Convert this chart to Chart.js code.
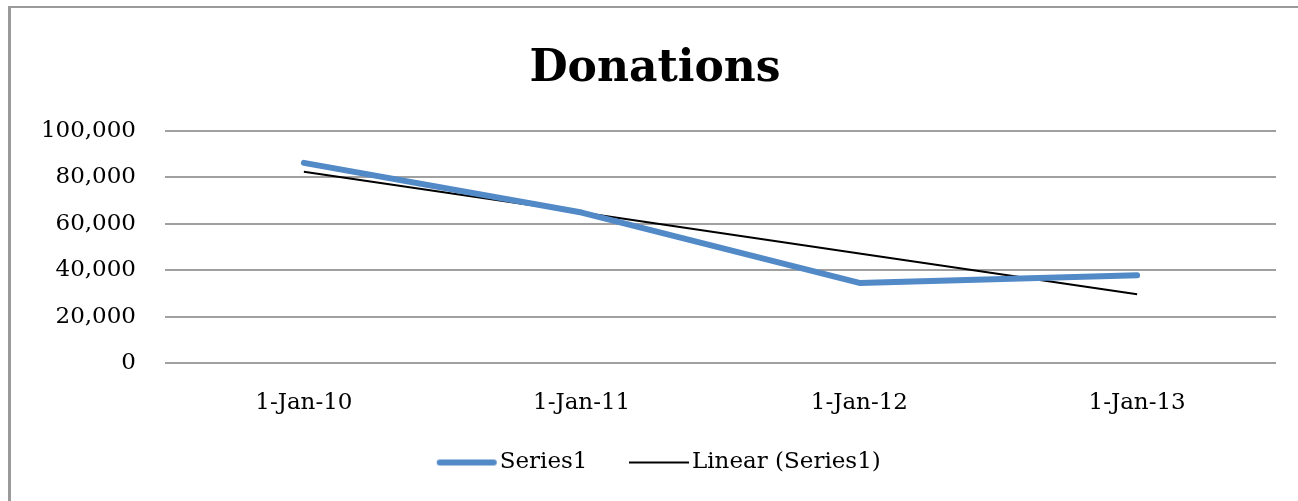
<!DOCTYPE html>
<html>
<head>
<meta charset="utf-8">
<script src="https://cdn.jsdelivr.net/npm/chart.js@4.4.1/dist/chart.umd.min.js"></script>
<style>
  html, body { margin: 0; padding: 0; background: #ffffff; }
  #wrap { position: relative; width: 1298px; height: 501px; overflow: hidden; }
  #frame { position: absolute; left: 8px; top: 6px; width: 1320px; height: 520px; border-left: 3px solid #9a9a9a; border-top: 2px solid #9a9a9a; box-sizing: border-box; }
  canvas { position: absolute; left: 0; top: 0; }
</style>
</head>
<body>
<div id="wrap">
  <div id="frame"></div>
  <canvas id="c" width="1298" height="501"></canvas>
</div>
<script>
const categories = ['1-Jan-10', '1-Jan-11', '1-Jan-12', '1-Jan-13'];
const series1 = [86200, 64800, 34500, 37800];
const linearSeries1 = [82400, 64800, 47200, 29600];
const yTicks = [0, 20000, 40000, 60000, 80000, 100000];

const serif = "'DejaVu Serif', serif";
const blue = '#5289c7';

function legendLine(color, width, cap) {
  const c = document.createElement('canvas');
  c.width = 80; c.height = 10;
  const g = c.getContext('2d');
  g.strokeStyle = color;
  g.lineWidth = width;
  g.lineCap = cap;
  g.beginPath();
  const pad = cap === 'round' ? width / 2 : 0;
  g.moveTo(18 + pad, 5);
  g.lineTo(78 - pad, 5);
  g.stroke();
  return c;
}
const legendStyles = [legendLine(blue, 6, 'round'), legendLine('#000000', 2, 'butt')];

const PAD_LEFT = 34;
const ctx = document.getElementById('c').getContext('2d');
new Chart(ctx, {
  type: 'line',
  data: {
    labels: categories,
    datasets: [
      {
        label: 'Series1',
        data: series1,
        borderColor: blue,
        backgroundColor: blue,
        borderWidth: 6,
        pointRadius: 0,
        borderCapStyle: 'round',
        borderJoinStyle: 'round',
        tension: 0
      },
      {
        label: 'Linear (Series1)',
        data: linearSeries1,
        borderColor: '#000000',
        backgroundColor: '#000000',
        borderWidth: 2,
        pointRadius: 0,
        tension: 0
      }
    ]
  },
  options: {
    responsive: false,
    animation: false,
    devicePixelRatio: 1,
    layout: { padding: { left: PAD_LEFT, right: 22, top: 0, bottom: 17 } },
    plugins: {
      title: {
        display: true,
        text: 'Donations',
        color: '#000000',
        font: { family: serif, size: 44, weight: 'bold' },
        padding: { top: 43, bottom: 35 }
      },
      legend: {
        display: true,
        position: 'bottom',
        labels: {
          color: '#000000',
          font: { family: serif, size: 23 },
          usePointStyle: true,
          pointStyleWidth: 59,
          padding: 34,
          generateLabels: (chart) => chart.data.datasets.map((ds, i) => ({
            text: ds.label,
            pointStyle: legendStyles[i],
            strokeStyle: ds.borderColor,
            fillStyle: ds.borderColor,
            lineWidth: 0,
            datasetIndex: i,
            hidden: false
          }))
        }
      },
      tooltip: { enabled: false }
    },
    scales: {
      x: {
        offset: true,
        grid: { display: false, drawTicks: false },
        border: { display: false },
        ticks: {
          color: '#000000',
          font: { family: serif, size: 23 },
          padding: 26,
          maxRotation: 0
        },
        afterFit: (s) => { s.height = 54; }
      },
      y: {
        min: 0,
        max: 100000,
        afterBuildTicks: (s) => { s.ticks = yTicks.map(v => ({ value: v })); },
        grid: { color: '#a0a0a0', lineWidth: 2, drawTicks: false },
        border: { display: false },
        ticks: {
          color: '#000000',
          font: { family: serif, size: 23 },
          padding: 29,
          callback: (v) => Number(v).toLocaleString('en-US')
        },
        afterFit: (s) => { s.width = 165 - PAD_LEFT; }
      }
    }
  }
});
</script>
</body>
</html>
